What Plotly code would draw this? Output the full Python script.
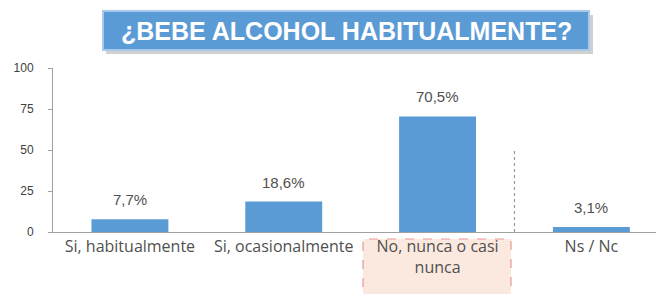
import plotly.graph_objects as go

categories = ["Si, habitualmente", "Si, ocasionalmente", "No, nunca o casi<br>nunca", "Ns / Nc"]
values = [7.7, 18.6, 70.5, 3.1]
value_labels = ["7,7%", "18,6%", "70,5%", "3,1%"]
y_ticks = [0, 25, 50, 75, 100]
title_text = "¿BEBE ALCOHOL HABITUALMENTE?"

x_pos = list(range(len(categories)))

L, T, PW, PH = 53, 68, 603, 164

def px(x):
    return (x - L) / PW

def py(y):
    return 1 - (y - T) / PH

fig = go.Figure()
fig.add_trace(go.Bar(
    x=x_pos, y=values, width=0.5,
    marker=dict(color="#5b9bd5", line=dict(width=0)),
    hoverinfo="skip",
))

for xi, v, lab in zip(x_pos, values, value_labels):
    fig.add_annotation(x=xi, y=v, text=lab, showarrow=False, yanchor="bottom",
                       yshift=9, font=dict(family="Liberation Sans, Arial", size=15, color="#505050"))

# highlighted category label box
fig.add_shape(type="rect", xref="paper", yref="paper", x0=px(363), x1=px(511), y0=py(300), y1=py(239),
              fillcolor="#fbe9df", line=dict(color="#e59a94", width=1.2, dash="dash"), layer="below")

# dotted separator
fig.add_shape(type="line", xref="x", yref="y", x0=2.5, x1=2.5, y0=0, y1=50,
              line=dict(color="#9a9a9a", width=1.2, dash="dot"))

# title box
fig.add_shape(type="rect", xref="paper", yref="paper", x0=px(106), x1=px(593),
              y0=py(54), y1=py(15), fillcolor="#d0d0d0", line=dict(width=0))
fig.add_shape(type="rect", xref="paper", yref="paper", x0=px(103), x1=px(589),
              y0=py(50), y1=py(11), fillcolor="#5b9bd5", line=dict(color="#a9c9ea", width=2))
fig.add_annotation(xref="paper", yref="paper", x=px(346), y=py(31), xanchor="center", yanchor="middle",
                   text="<b>" + title_text + "</b>", showarrow=False,
                   font=dict(family="Liberation Sans, Arial", size=25, color="white"))

fig.update_layout(
    width=656, height=294,
    margin=dict(l=L, r=0, t=T, b=294 - T - PH),
    paper_bgcolor="white", plot_bgcolor="white",
    showlegend=False,
    xaxis=dict(range=[-0.5, 3.42], tickmode="array", tickvals=x_pos, ticktext=categories,
               showline=True, linecolor="#a0a0a0", linewidth=1, showgrid=False, zeroline=False,
               ticks="", ticklen=0, automargin=False,
               tickfont=dict(family="Open Sans", size=16, color="#505050"), fixedrange=True),
    yaxis=dict(range=[0, 100], tickvals=y_ticks, showline=True, linecolor="#a0a0a0", linewidth=1,
               ticks="outside", ticklen=4, tickcolor="#a0a0a0", showgrid=False, zeroline=False,
               automargin=False, ticklabelstandoff=12,
               tickfont=dict(family="Liberation Sans, Arial", size=12, color="#404040"), fixedrange=True),
    bargap=0.5,
)

fig.write_html("out.html", config={"displayModeBar": False},
               post_script="document.body.style.margin='0';document.body.style.padding='0';")
